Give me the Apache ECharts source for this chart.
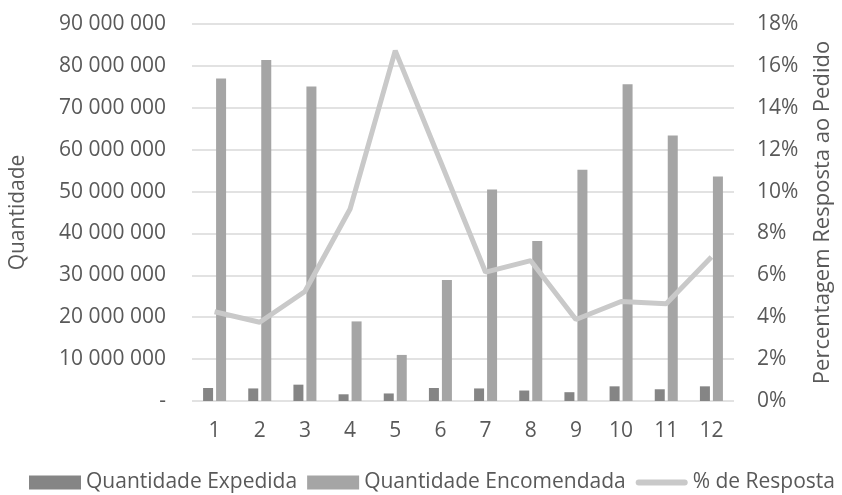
<!DOCTYPE html>
<html>
<head>
<meta charset="utf-8">
<script src="https://cdn.jsdelivr.net/npm/echarts@6/dist/echarts.min.js"></script>
<style>
  html, body { margin: 0; padding: 0; background: #ffffff; }
  #chart { width: 842px; height: 495px; }
</style>
</head>
<body>
<div id="chart"></div>
<script>
// Monthly shipped vs ordered quantities, with the response percentage
const months = ['1', '2', '3', '4', '5', '6', '7', '8', '9', '10', '11', '12'];
const shipped = [3100000, 3000000, 3900000, 1600000, 1800000, 3100000, 3000000, 2500000, 2100000, 3500000, 2800000, 3500000];
const ordered = [77000000, 81400000, 75100000, 19000000, 11000000, 28900000, 50500000, 38200000, 55200000, 75600000, 63400000, 53600000];
const responsePct = [4.26, 3.76, 5.23, 9.17, 16.73, 11.45, 6.15, 6.7, 3.89, 4.75, 4.64, 6.87];

const seriesNames = ['Quantidade Expedida', 'Quantidade Encomendada', '% de Resposta'];
const leftAxisName = 'Quantidade';
const rightAxisName = 'Percentagem Resposta ao Pedido';

const FONT = 'Open Sans';
const TEXT = '#595959';
const TICK_SIZE = 21;

function fmtThousands(v) {
  if (v === 0) return '-';
  return String(Math.round(v)).replace(/\B(?=(\d{3})+(?!\d))/g, ' ');
}

const chart = echarts.init(document.getElementById('chart'), null, { renderer: 'canvas' });
chart.setOption({
  animation: false,
  backgroundColor: '#ffffff',
  textStyle: { fontFamily: FONT },
  grid: { left: 184, right: 103, top: 24, bottom: 94, containLabel: false },
  legend: {
    top: 467,
    left: 24,
    itemGap: 10,
    itemWidth: 52,
    itemHeight: 14,
    symbolKeepAspect: true,
    textStyle: { fontFamily: FONT, fontSize: 21, color: TEXT },
    data: [
      { name: seriesNames[0], icon: 'rect' },
      { name: seriesNames[1], icon: 'rect' },
      { name: seriesNames[2], icon: 'path://M3,0 H49 A3,3 0 0 1 49,6 H3 A3,3 0 0 1 3,0 Z' }
    ]
  },
  xAxis: {
    type: 'category',
    data: months,
    axisLine: { show: false },
    axisTick: { show: false },
    axisLabel: { color: TEXT, fontSize: TICK_SIZE, fontFamily: FONT, margin: 20 }
  },
  yAxis: [
    {
      type: 'value',
      min: 0,
      max: 90000000,
      interval: 10000000,
      name: leftAxisName,
      nameLocation: 'middle',
      nameRotate: 90,
      nameGap: 163,
      nameTextStyle: { color: TEXT, fontSize: 21, fontFamily: FONT },
      axisLine: { show: false },
      axisTick: { show: false },
      splitLine: { lineStyle: { color: '#d9d9d9', width: 1.5 } },
      axisLabel: { color: TEXT, fontSize: TICK_SIZE, fontFamily: FONT, margin: 26, formatter: fmtThousands }
    },
    {
      type: 'value',
      min: 0,
      max: 18,
      interval: 2,
      name: rightAxisName,
      nameLocation: 'middle',
      nameRotate: 90,
      nameGap: 78,
      nameTextStyle: { color: TEXT, fontSize: 22, fontFamily: FONT },
      axisLine: { show: false },
      axisTick: { show: false },
      splitLine: { show: false },
      axisLabel: { color: TEXT, fontSize: TICK_SIZE, fontFamily: FONT, margin: 23, formatter: v => v + '%' }
    }
  ],
  series: [
    {
      name: seriesNames[0],
      type: 'bar',
      yAxisIndex: 0,
      data: shipped,
      barWidth: 10,
      barGap: '30%',
      itemStyle: { color: '#858585' }
    },
    {
      name: seriesNames[1],
      type: 'bar',
      yAxisIndex: 0,
      data: ordered,
      barWidth: 10,
      barGap: '30%',
      itemStyle: { color: '#a5a5a5' }
    },
    {
      name: seriesNames[2],
      type: 'line',
      yAxisIndex: 1,
      data: responsePct,
      symbol: 'none',
      lineStyle: { color: '#c9c9c9', width: 5 },
      itemStyle: { color: '#c9c9c9' }
    }
  ]
});
</script>
</body>
</html>
